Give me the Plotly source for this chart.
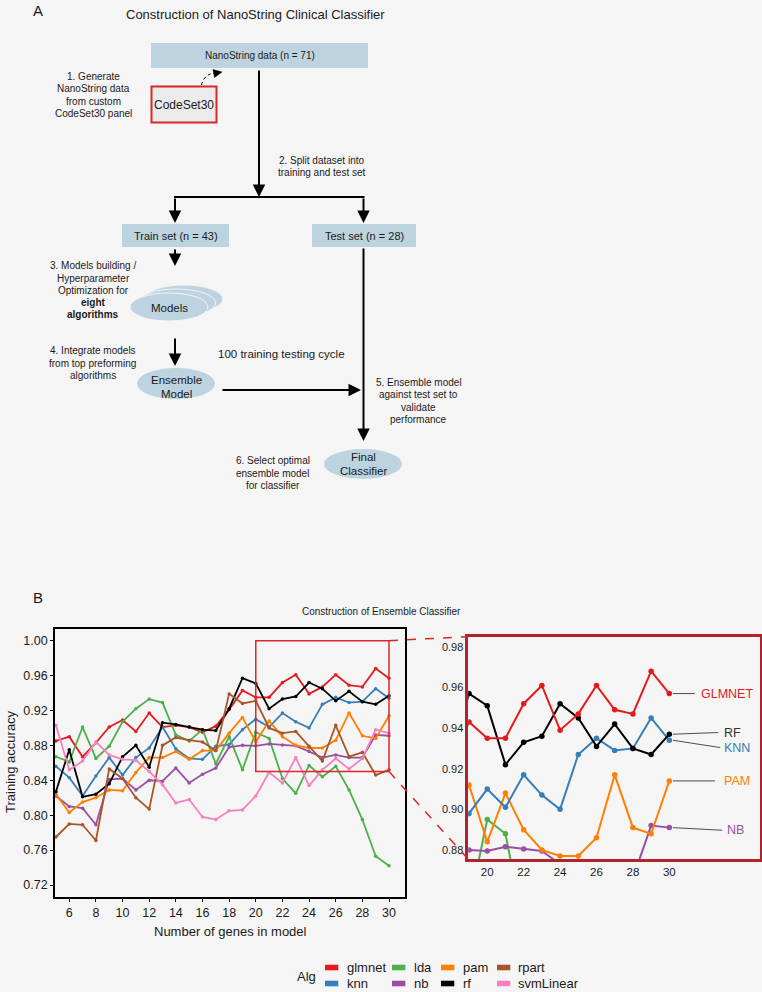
import plotly.graph_objects as go

# ---------------- data ----------------
genes = list(range(5, 31))
algs = ["glmnet", "knn", "lda", "nb", "pam", "rf", "rpart", "svmLinear"]
glmnet = [0.885, 0.890, 0.867, 0.883, 0.901, 0.909, 0.896, 0.917, 0.901, 0.903, 0.901, 0.895, 0.902,
          0.921, 0.943, 0.935, 0.935, 0.952, 0.961, 0.939, 0.947, 0.961, 0.949, 0.947, 0.968, 0.957]
knn = [0.856, 0.843, 0.822, 0.845, 0.866, 0.846, 0.866, 0.877, 0.901, 0.876, 0.865, 0.864, 0.879,
       0.881, 0.898, 0.910, 0.901, 0.917, 0.907, 0.900, 0.927, 0.935, 0.929, 0.930, 0.945, 0.934]
lda = [0.867, 0.861, 0.901, 0.865, 0.879, 0.907, 0.922, 0.933, 0.929, 0.892, 0.885, 0.898, 0.859,
       0.890, 0.852, 0.895, 0.888, 0.842, 0.825, 0.857, 0.844, 0.856, 0.829, 0.795, 0.753, 0.742]
nb = [0.822, 0.810, 0.808, 0.789, 0.841, 0.842, 0.829, 0.840, 0.839, 0.854, 0.837, 0.847, 0.854,
      0.878, 0.880, 0.8795, 0.8816, 0.8805, 0.8795, 0.873, 0.866, 0.869, 0.866, 0.866, 0.892, 0.891]
pam = [0.824, 0.803, 0.815, 0.820, 0.829, 0.828, 0.849, 0.866, 0.866, 0.873, 0.864, 0.874, 0.874,
       0.894, 0.912, 0.884, 0.908, 0.890, 0.880, 0.877, 0.877, 0.886, 0.917, 0.891, 0.888, 0.914]
rf = [0.827, 0.875, 0.821, 0.824, 0.836, 0.867, 0.880, 0.855, 0.906, 0.904, 0.901, 0.898, 0.897,
      0.922, 0.957, 0.951, 0.922, 0.933, 0.936, 0.952, 0.945, 0.931, 0.942, 0.930, 0.927, 0.937]
rpart = [0.775, 0.790, 0.789, 0.771, 0.853, 0.842, 0.820, 0.807, 0.880, 0.889, 0.886, 0.884, 0.874,
         0.939, 0.928, 0.931, 0.900, 0.894, 0.896, 0.879, 0.862, 0.903, 0.867, 0.872, 0.846, 0.852]
svmLinear = [0.903, 0.852, 0.862, 0.884, 0.869, 0.864, 0.863, 0.850, 0.835, 0.814, 0.818, 0.798, 0.795,
             0.805, 0.806, 0.822, 0.849, 0.837, 0.866, 0.834, 0.852, 0.865, 0.853, 0.865, 0.898, 0.894]
series = {"glmnet": glmnet, "knn": knn, "lda": lda, "nb": nb, "pam": pam, "rf": rf,
          "rpart": rpart, "svmLinear": svmLinear}
colors = {"glmnet": "#E41A1C", "knn": "#377EB8", "lda": "#4DAF4A", "nb": "#984EA3",
          "pam": "#FF7F00", "rf": "#000000", "rpart": "#A65628", "svmLinear": "#F781BF"}
zoom_algs = ["lda", "nb", "pam", "knn", "rf", "glmnet"]
zoom_labels = {"glmnet": "GLMNET", "rf": "RF", "knn": "KNN", "pam": "PAM", "nb": "NB"}
label_dy = {"glmnet": 0.0, "rf": 0.0008, "knn": -0.0036, "pam": 0.0, "nb": -0.0013}
x_ticks = list(range(6, 31, 2))
y_ticks = [0.72, 0.76, 0.80, 0.84, 0.88, 0.92, 0.96, 1.00]
x2_ticks = list(range(20, 31, 2))
y2_ticks = [0.88, 0.90, 0.92, 0.94, 0.96, 0.98]

# ---------------- geometry helpers ----------------
W, H = 762, 992
FONT = "Liberation Sans, Arial, Helvetica, sans-serif"
TXT = "#1a1a1a"
BOXC = "#BDD3E0"
BG = "#F5F5F5"


def px(x):
    return x / W


def py(y):
    return 1 - y / H


LX = (55 / W, 405 / W)
LY = (1 - 896.7 / H, 1 - 629.3 / H)
LXR = (4.93, 31.2)
LYR = (0.7066, 1.013)
RX = (468.3 / W, 760 / W)
RY = (1 - 859.3 / H, 1 - 636.7 / H)
RXR = (18.96, 34.98)
RYR = (0.8754, 0.985)


def lx(v):
    return LX[0] + (v - LXR[0]) / (LXR[1] - LXR[0]) * (LX[1] - LX[0])


def ly(v):
    return LY[0] + (v - LYR[0]) / (LYR[1] - LYR[0]) * (LY[1] - LY[0])


fig = go.Figure()

# ---------------- panel B traces ----------------
for a in algs:
    fig.add_trace(go.Scatter(x=genes, y=series[a], mode="lines+markers", name=a,
                             line=dict(color=colors[a], width=1.8),
                             marker=dict(color=colors[a], size=3.5),
                             xaxis="x", yaxis="y", showlegend=False))
for a in zoom_algs:
    fig.add_trace(go.Scatter(x=genes, y=series[a], mode="lines+markers", name=a,
                             line=dict(color=colors[a], width=2),
                             marker=dict(color=colors[a], size=5.5),
                             xaxis="x2", yaxis="y2", showlegend=False, cliponaxis=True))

shapes = []
annotations = []


def text(x, y, s, size=10, color=TXT, xanchor="center", textangle=0, **kw):
    annotations.append(dict(x=px(x), y=py(y), xref="paper", yref="paper", text=s, showarrow=False,
                            xanchor=xanchor, yanchor="middle", textangle=textangle,
                            font=dict(family=FONT, size=size, color=color), **kw))


def lines_block(cx, y0, dy, lines, size=10):
    for i, s in enumerate(lines):
        text(cx, y0 + i * dy, s, size=size)


def rect(x0, y0, x1, y1, fill, line_color=None, lw=0):
    shapes.append(dict(type="rect", xref="paper", yref="paper", x0=px(x0), x1=px(x1), y0=py(y1), y1=py(y0),
                       fillcolor=fill, line=dict(color=line_color or fill, width=lw), layer="above"))


def ellipse(x0, y0, x1, y1, fill=BOXC, line_color=BG, lw=0):
    shapes.append(dict(type="circle", xref="paper", yref="paper", x0=px(x0), x1=px(x1), y0=py(y1), y1=py(y0),
                       fillcolor=fill, line=dict(color=line_color, width=lw), layer="above"))


def seg(x0, y0, x1, y1, color="black", width=2, dash="solid"):
    shapes.append(dict(type="line", xref="paper", yref="paper", x0=px(x0), x1=px(x1), y0=py(y0), y1=py(y1),
                       line=dict(color=color, width=width, dash=dash), layer="above"))


def arrow(xt, yt, xh, yh):
    annotations.append(dict(x=px(xh), y=py(yh), xref="paper", yref="paper", ax=xt - xh, ay=yt - yh,
                            axref="pixel", ayref="pixel", text="", showarrow=True, arrowhead=2,
                            arrowsize=1.25, arrowwidth=2, arrowcolor="black", standoff=0, startstandoff=0))


# ---------------- panel A diagram ----------------
text(37.5, 10, "A", size=15)
text(255, 14, "Construction of NanoString Clinical Classifier", size=13)

rect(151, 43, 368, 68, BOXC)
text(259.5, 55.5, "NanoString data (n = 71)", size=10)

rect(151.5, 86.5, 216.5, 122.5, "#EBEBEB", "#D9262C", 2)
text(184, 104.5, "CodeSet30", size=12)

lines_block(93, 76.7, 12.2, ["1. Generate", "NanoString data", "from custom", "CodeSet30 panel"])

# dashed curved arrow
p0 = (201.5, 85)
pc = (204, 74)
p1 = (215, 73)
shapes.append(dict(type="path", xref="paper", yref="paper",
                   path=f"M {px(p0[0])},{py(p0[1])} Q {px(pc[0])},{py(pc[1])} {px(p1[0])},{py(p1[1])}",
                   line=dict(color="black", width=1, dash="dot"), layer="above"))
shapes.append(dict(type="path", xref="paper", yref="paper",
                   path=f"M {px(213)},{py(69.5)} L {px(222)},{py(72)} L {px(214.5)},{py(77.5)} Z",
                   fillcolor="black", line=dict(color="black", width=0.5), layer="above"))

arrow(259, 69, 259, 197)
lines_block(321.5, 160.5, 12.3, ["2. Split dataset into", "training and test set"])
seg(174, 197, 364.5, 197)
arrow(175, 197, 175, 223)
arrow(363.5, 197, 363.5, 223)

rect(122, 224, 229, 247, BOXC)
text(175.5, 235.5, "Train set (n = 43)", size=11)
rect(312, 224, 416, 247, BOXC)
text(364, 235.5, "Test set (n = 28)", size=11)

arrow(175, 248, 175, 266)
lines_block(93, 265.7, 12.3, ["3. Models building /", "Hyperparameter", "Optimization for",
                              "<b>eight</b>", "<b>algorithms</b>"])
ellipse(145, 285, 223, 313, lw=1)
ellipse(137.5, 289, 215.5, 317, lw=1)
ellipse(130, 293, 208, 321, lw=1)
text(169, 307.5, "Models", size=11.5)

arrow(175, 337, 175, 366)
lines_block(92.7, 350.7, 12.3, ["4. Integrate models", "from top preforming", "algorithms"])
ellipse(137, 368, 215, 399)
text(176, 379.5, "Ensemble", size=11.5)
text(176, 393.5, "Model", size=11.5)

text(281, 354, "100 training testing cycle", size=11.5)
arrow(221, 390, 361, 390)
arrow(363.5, 247, 363.5, 441)
lines_block(418.7, 382.7, 12.2, ["5. Ensemble model", "against test set to", "validate", "performance"])

ellipse(324, 449, 402, 479)
text(363.3, 457, "Final", size=11.5)
text(363.3, 470.5, "Classifier", size=11.5)
lines_block(272.7, 460.7, 12.3, ["6. Select optimal", "ensemble model", "for classifier"])

# ---------------- panel B decorations ----------------
text(37.5, 597, "B", size=15)
text(381, 611, "Construction of Ensemble Classifier", size=10)
text(10, 762, "Training accuracy", size=13, textangle=-90)
text(230, 931.7, "Number of genes in model", size=13)

# zoom box in left chart
shapes.append(dict(type="rect", xref="x", yref="y", x0=20, x1=30, y0=0.85, y1=1.00,
                   line=dict(color="#E0262B", width=1.5), fillcolor="rgba(0,0,0,0)", layer="above"))
# dashed connectors
shapes.append(dict(type="line", xref="paper", yref="paper", x0=lx(30), y0=ly(1.00), x1=RX[0], y1=RY[1],
                   line=dict(color="#D9262C", width=1.5, dash="dash"), layer="above"))
shapes.append(dict(type="line", xref="paper", yref="paper", x0=lx(30), y0=ly(0.85), x1=RX[0], y1=RY[0],
                   line=dict(color="#D9262C", width=1.5, dash="dash"), layer="above"))

# labels in zoom chart
label_end = {"glmnet": 31.4, "rf": 32.68, "knn": 32.8, "pam": 32.5, "nb": 32.9}
label_start = {"glmnet": 31.62, "rf": 32.9, "knn": 32.9, "pam": 32.9, "nb": 33.05}
for a, lab in zoom_labels.items():
    yv = series[a][-1]
    shapes.append(dict(type="line", xref="x2", yref="y2", x0=genes[-1] + 0.2, y0=yv,
                       x1=label_end[a], y1=yv + label_dy[a], line=dict(color="#222", width=0.8), layer="above"))
    annotations.append(dict(x=label_start[a], y=yv + label_dy[a], xref="x2", yref="y2", text=lab,
                            showarrow=False, xanchor="left", yanchor="middle",
                            font=dict(family=FONT, size=12.5,
                                      color=colors[a] if a != "rf" else "#333333")))

# manual legend
text(306, 976, "Alg", size=13)
cols = [["glmnet", "knn"], ["lda", "nb"], ["pam", "rf"], ["rpart", "svmLinear"]]
sw_x = [325, 392, 441, 497]
tx_x = [345, 412, 461, 516]
row_y = [967.5, 983.5]
for ci, col in enumerate(cols):
    for ri, a in enumerate(col):
        rect(sw_x[ci], row_y[ri] - 2.8, sw_x[ci] + 13.3, row_y[ri] + 2.8, colors[a])
        text(tx_x[ci], row_y[ri], a, size=13, xanchor="left")

axis_common = dict(showgrid=False, zeroline=False, showline=True, mirror=True)
fig.update_layout(
    width=W, height=H, margin=dict(l=0, r=0, t=0, b=0),
    paper_bgcolor=BG, plot_bgcolor=BG, showlegend=False,
    font=dict(family=FONT, color=TXT),
    xaxis=dict(domain=list(LX), range=list(LXR), tickvals=x_ticks, anchor="y",
               ticks="outside", ticklen=3, tickcolor="black", linecolor="black", linewidth=1.6,
               tickfont=dict(family=FONT, size=12.5, color=TXT), **axis_common),
    yaxis=dict(domain=list(LY), range=list(LYR), tickvals=y_ticks, tickformat=".2f", anchor="x",
               ticks="outside", ticklen=3, tickcolor="black", linecolor="black", linewidth=1.6,
               tickfont=dict(family=FONT, size=12.5, color=TXT), **axis_common),
    xaxis2=dict(domain=list(RX), range=list(RXR), tickvals=x2_ticks, anchor="y2",
                ticks="", linecolor="#B0232A", linewidth=2.5,
                tickfont=dict(family=FONT, size=11.5, color=TXT), **axis_common),
    yaxis2=dict(domain=list(RY), range=list(RYR), tickvals=y2_ticks, tickformat=".2f", anchor="x2",
                ticks="", linecolor="#B0232A", linewidth=2.5,
                tickfont=dict(family=FONT, size=11, color=TXT), **axis_common),
    shapes=shapes, annotations=annotations,
)

fig.write_html("out.html", config={"displayModeBar": False},
               post_script="document.body.style.margin='0px';document.body.style.padding='0px';"
                           "document.body.style.overflow='hidden';"
                           "document.body.style.background='" + BG + "';")
